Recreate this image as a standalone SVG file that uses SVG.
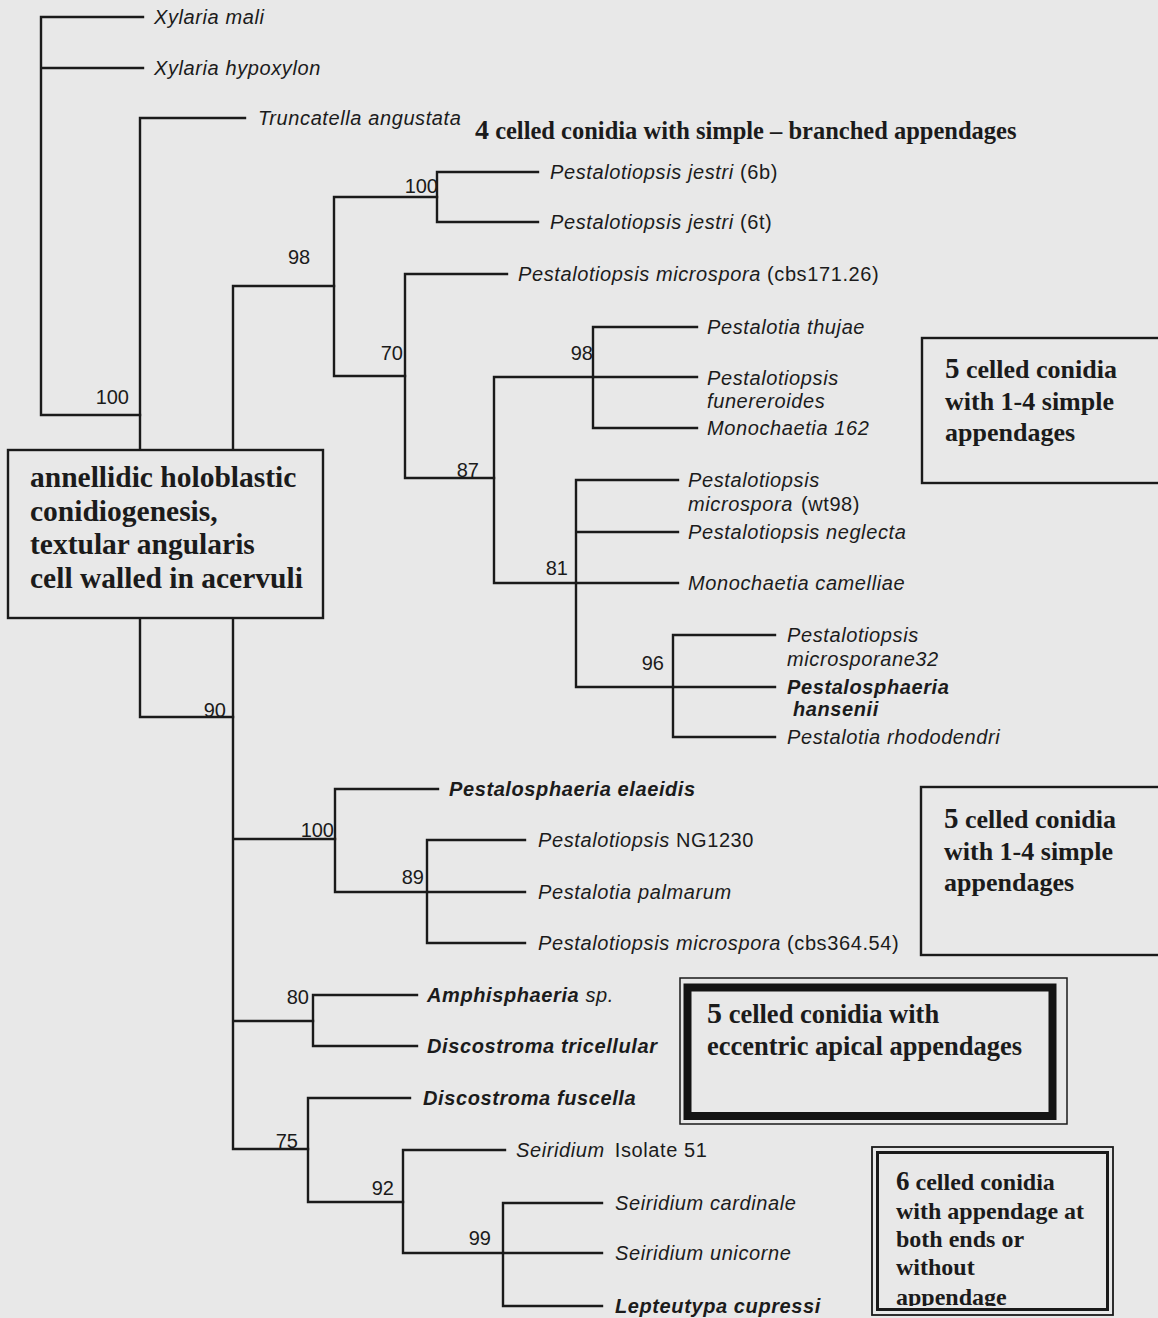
<svg xmlns="http://www.w3.org/2000/svg" width="1158" height="1318" viewBox="0 0 1158 1318">
  <style>
    .ln { fill: none; stroke: #1a1a1a; stroke-width: 2.4; stroke-linecap: square; }
    .tx { font-family: "Liberation Sans", Arial, sans-serif; font-size: 20px; letter-spacing: 0.6px; fill: #1b1b1b; }
    .i { font-style: italic; }
    .bi { font-style: italic; font-weight: bold; }
    .up { font-style: normal; font-weight: normal; }
    .bs { font-family: "Liberation Sans", Arial, sans-serif; font-size: 20px; fill: #1b1b1b; }
    .sr { font-family: "Liberation Serif", "Times New Roman", serif; font-weight: bold; fill: #1b1b1b; }
    .box { fill: #e8e8e8; stroke: #1a1a1a; stroke-width: 2.4; }
  </style>
  <defs>
    <!-- the last line of the 6-celled note runs into the inner frame -->
    <clipPath id="clip6">
      <rect x="878" y="1155" width="228" height="151"/>
    </clipPath>
  </defs>

  <rect x="0" y="0" width="1158" height="1318" fill="#e8e8e8"/>

  <!-- branch lines -->
  <g id="connectors">
    <path class="ln" d="M41 17V415 M41 17H143 M41 68H143 M41 415H140"/>
    <path class="ln" d="M140 118V717 M140 118H245 M140 717H233"/>
    <path class="ln" d="M233 286V1149 M233 286H334 M233 839H335 M233 1021H313 M233 1149H308"/>
    <path class="ln" d="M334 197V376 M334 197H437 M334 376H405"/>
    <path class="ln" d="M437 172V222 M437 172H538 M437 222H538"/>
    <path class="ln" d="M405 274V478 M405 274H507 M405 478H494"/>
    <path class="ln" d="M494 377V583 M494 377H593 M494 583H576"/>
    <path class="ln" d="M593 327V428 M593 327H697 M593 377H697 M593 428H697"/>
    <path class="ln" d="M576 480V687 M576 480H678 M576 532H678 M576 583H678 M576 687H673"/>
    <path class="ln" d="M673 635V737 M673 635H775 M673 687H775 M673 737H775"/>
    <path class="ln" d="M335 789V892 M335 789H438 M335 892H427"/>
    <path class="ln" d="M427 840V943 M427 840H525 M427 892H525 M427 943H525"/>
    <path class="ln" d="M313 995V1046 M313 995H417 M313 1046H417"/>
    <path class="ln" d="M308 1098V1202 M308 1098H410 M308 1202H403"/>
    <path class="ln" d="M403 1150V1253 M403 1150H505 M403 1253H503"/>
    <path class="ln" d="M503 1203V1306 M503 1203H602 M503 1253H602 M503 1306H602"/>
  </g>

  <!-- bootstrap support values -->
  <g id="support">
    <text class="bs" x="438" y="193" text-anchor="end">100</text>
    <text class="bs" x="299" y="264" text-anchor="middle">98</text>
    <text class="bs" x="403" y="360" text-anchor="end">70</text>
    <text class="bs" x="479" y="477" text-anchor="end">87</text>
    <text class="bs" x="593" y="360" text-anchor="end">98</text>
    <text class="bs" x="568" y="575" text-anchor="end">81</text>
    <text class="bs" x="664" y="670" text-anchor="end">96</text>
    <text class="bs" x="129" y="404" text-anchor="end">100</text>
    <text class="bs" x="226" y="717" text-anchor="end">90</text>
    <text class="bs" x="334" y="837" text-anchor="end">100</text>
    <text class="bs" x="424" y="884" text-anchor="end">89</text>
    <text class="bs" x="309" y="1004" text-anchor="end">80</text>
    <text class="bs" x="298" y="1148" text-anchor="end">75</text>
    <text class="bs" x="394" y="1195" text-anchor="end">92</text>
    <text class="bs" x="491" y="1245" text-anchor="end">99</text>
  </g>

  <!-- taxa -->
  <g id="xylaria-mali"><text class="tx i" x="154" y="24">Xylaria mali</text></g>
  <g id="xylaria-hypoxylon"><text class="tx i" x="154" y="75">Xylaria hypoxylon</text></g>
  <g id="truncatella-angustata"><text class="tx i" x="258" y="125">Truncatella angustata</text></g>
  <g id="p-jestri-6b"><text class="tx i" x="550" y="179">Pestalotiopsis jestri<tspan class="up"> (6b)</tspan></text></g>
  <g id="p-jestri-6t"><text class="tx i" x="550" y="229">Pestalotiopsis jestri<tspan class="up"> (6t)</tspan></text></g>
  <g id="p-microspora-cbs171"><text class="tx i" x="518" y="281">Pestalotiopsis microspora<tspan class="up"> (cbs171.26)</tspan></text></g>
  <g id="pestalotia-thujae"><text class="tx i" x="707" y="334">Pestalotia thujae</text></g>
  <g id="p-funereroides">
    <text class="tx i" x="707" y="385">Pestalotiopsis</text>
    <text class="tx i" x="707" y="408">funereroides</text>
  </g>
  <g id="monochaetia-162"><text class="tx i" x="707" y="435">Monochaetia 162</text></g>
  <g id="p-microspora-wt98">
    <text class="tx i" x="688" y="487">Pestalotiopsis</text>
    <text class="tx i" x="688" y="511">microspora<tspan class="up" dx="8">(wt98)</tspan></text>
  </g>
  <g id="p-neglecta"><text class="tx i" x="688" y="539">Pestalotiopsis neglecta</text></g>
  <g id="monochaetia-camelliae"><text class="tx i" x="688" y="590">Monochaetia camelliae</text></g>
  <g id="p-microsporane32">
    <text class="tx i" x="787" y="642">Pestalotiopsis</text>
    <text class="tx i" x="787" y="666">microsporane32</text>
  </g>
  <g id="pestalosphaeria-hansenii">
    <text class="tx bi" x="787" y="694">Pestalosphaeria</text>
    <text class="tx bi" x="793" y="716">hansenii</text>
  </g>
  <g id="pestalotia-rhododendri"><text class="tx i" x="787" y="744">Pestalotia rhododendri</text></g>
  <g id="pestalosphaeria-elaeidis"><text class="tx bi" x="449" y="796">Pestalosphaeria elaeidis</text></g>
  <g id="p-ng1230"><text class="tx i" x="538" y="847">Pestalotiopsis<tspan class="up"> NG1230</tspan></text></g>
  <g id="pestalotia-palmarum"><text class="tx i" x="538" y="899">Pestalotia palmarum</text></g>
  <g id="p-microspora-cbs364"><text class="tx i" x="538" y="950">Pestalotiopsis microspora<tspan class="up"> (cbs364.54)</tspan></text></g>
  <g id="amphisphaeria-sp"><text class="tx bi" x="427" y="1002">Amphisphaeria<tspan class="i" font-weight="normal"> sp.</tspan></text></g>
  <g id="discostroma-tricellular"><text class="tx bi" x="427" y="1053">Discostroma tricellular</text></g>
  <g id="discostroma-fuscella"><text class="tx bi" x="423" y="1105">Discostroma fuscella</text></g>
  <g id="seiridium-isolate51"><text class="tx i" x="516" y="1157">Seiridium<tspan class="up" dx="10">Isolate 51</tspan></text></g>
  <g id="seiridium-cardinale"><text class="tx i" x="615" y="1210">Seiridium cardinale</text></g>
  <g id="seiridium-unicorne"><text class="tx i" x="615" y="1260">Seiridium unicorne</text></g>
  <g id="lepteutypa-cupressi"><text class="tx bi" x="615" y="1313">Lepteutypa cupressi</text></g>

  <!-- character annotations -->
  <g id="note-4-celled">
    <text class="sr" x="475" y="139" font-size="24.5"><tspan font-size="28">4</tspan> celled conidia with simple – branched appendages</text>
  </g>

  <g id="note-annellidic">
    <rect class="box" x="8" y="450" width="315" height="168"/>
    <text class="sr" font-size="29.5">
      <tspan x="30" y="487">annellidic holoblastic</tspan>
      <tspan x="30" y="521">conidiogenesis,</tspan>
      <tspan x="30" y="554">textular angularis</tspan>
      <tspan x="30" y="588">cell walled in acervuli</tspan>
    </text>
  </g>

  <g id="note-5-celled-a">
    <rect class="box" x="922" y="338" width="250" height="145"/>
    <text class="sr" font-size="26">
      <tspan x="945" y="378"><tspan font-size="29">5</tspan> celled conidia</tspan>
      <tspan x="945" y="410">with 1-4 simple</tspan>
      <tspan x="945" y="441">appendages</tspan>
    </text>
  </g>

  <g id="note-5-celled-b">
    <rect class="box" x="921" y="787" width="251" height="168"/>
    <text class="sr" font-size="26">
      <tspan x="944" y="828"><tspan font-size="29">5</tspan> celled conidia</tspan>
      <tspan x="944" y="860">with 1-4 simple</tspan>
      <tspan x="944" y="891">appendages</tspan>
    </text>
  </g>

  <g id="note-eccentric">
    <rect x="680" y="978" width="387" height="146" fill="#e8e8e8" stroke="#1a1a1a" stroke-width="1.5"/>
    <rect x="687.5" y="987.5" width="365" height="128.5" fill="none" stroke="#141414" stroke-width="8"/>
    <text class="sr" font-size="26.5">
      <tspan x="707" y="1023"><tspan font-size="30">5</tspan> celled conidia with</tspan>
      <tspan x="707" y="1055">eccentric apical appendages</tspan>
    </text>
  </g>

  <g id="note-6-celled">
    <rect x="872" y="1147" width="241" height="168" fill="#e8e8e8" stroke="#1a1a1a" stroke-width="1.8"/>
    <rect x="877.5" y="1152.5" width="230" height="157" fill="none" stroke="#1a1a1a" stroke-width="3"/>
    <text class="sr" font-size="24" clip-path="url(#clip6)">
      <tspan x="896" y="1190"><tspan font-size="27">6</tspan> celled conidia</tspan>
      <tspan x="896" y="1219">with appendage at</tspan>
      <tspan x="896" y="1247">both ends or</tspan>
      <tspan x="896" y="1275">without</tspan>
      <tspan x="896" y="1305">appendage</tspan>
    </text>
  </g>
</svg>
